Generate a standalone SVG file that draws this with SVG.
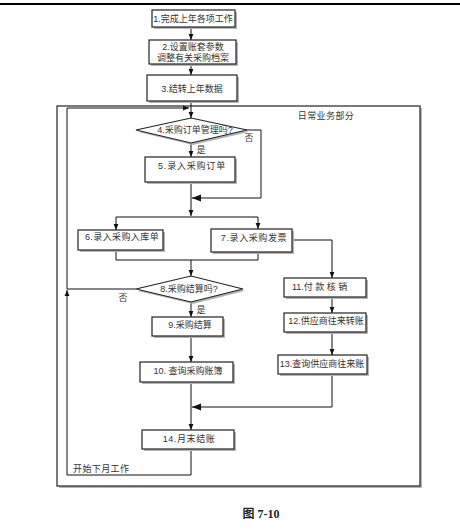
<svg xmlns="http://www.w3.org/2000/svg" width="460" height="530" viewBox="0 0 460 530">
<style>
text{font-family:"Liberation Sans","Noto Sans CJK SC",sans-serif;font-size:9px;fill:#333;text-anchor:middle}
.lt{text-anchor:start}
.box{fill:#fff;stroke:#222;stroke-width:1.2}
.sh{fill:#b5b5b5;stroke:none}
.ln{fill:none;stroke:#111;stroke-width:1}
.cap{font-family:"Liberation Serif","Noto Sans CJK SC",serif;font-weight:bold;font-size:12px;fill:#222}
</style>
<defs>
<marker id="a" viewBox="0 0 10 10" refX="10" refY="5" markerWidth="6" markerHeight="6" markerUnits="userSpaceOnUse" orient="auto"><path d="M0,1 L10,5 L0,9 z" fill="#111"/></marker>
<marker id="b" viewBox="0 0 10 10" refX="10" refY="5" markerWidth="9" markerHeight="9" markerUnits="userSpaceOnUse" orient="auto"><path d="M0,1 L10,5 L0,9 z" fill="#111"/></marker>
</defs>
<rect width="460" height="530" fill="#fff"/>
<line x1="0" y1="4" x2="460" y2="4" stroke="#000" stroke-width="2.2"/>
<g id="frame">
<rect class="sh" x="59" y="108" width="363" height="380"/>
<rect x="57" y="106" width="363" height="380" fill="#fff" stroke="#333" stroke-width="1.3"/>
<text x="326" y="119" letter-spacing="0.4">日常业务部分</text>
</g>
<g id="connectors">
<path class="ln" d="M191,27 L191,40" marker-end="url(#a)"/>
<path class="ln" d="M191,64 L191,75" marker-end="url(#a)"/>
<path class="ln" d="M191,101 L191,118" marker-end="url(#a)"/>
<path class="ln" d="M191,143 L191,157" marker-end="url(#a)"/>
<path class="ln" d="M246,130 L261,130 L261,198 L192,198" marker-end="url(#b)"/>
<path class="ln" d="M191,182 L191,216" marker-end="url(#a)"/>
<path class="ln" d="M116,217 L258,217"/>
<path class="ln" d="M116,217 L116,230" marker-end="url(#a)"/>
<path class="ln" d="M258,217 L258,229" marker-end="url(#a)"/>
<path class="ln" d="M116,250 L116,260 L258,260 L258,252"/>
<path class="ln" d="M191,260 L191,276" marker-end="url(#a)"/>
<path class="ln" d="M292,240 L332,240 L332,278" marker-end="url(#a)"/>
<path class="ln" d="M332,297 L332,313" marker-end="url(#a)"/>
<path class="ln" d="M332,332 L332,355" marker-end="url(#a)"/>
<path class="ln" d="M332,374 L332,407 L192,407" marker-end="url(#b)"/>
<path class="ln" d="M191,302 L191,317" marker-end="url(#a)"/>
<path class="ln" d="M136,289 L67,289"/>
<path class="ln" d="M191,336 L191,362" marker-end="url(#a)"/>
<path class="ln" d="M191,382 L191,430" marker-end="url(#a)"/>
<path class="ln" d="M191,449 L191,475 L67,475 L67,290" marker-end="url(#a)"/>
<path class="ln" d="M67,289 L67,108 L189,108" marker-end="url(#a)"/>
<text x="249" y="141">否</text>
<text x="201" y="153">是</text>
<text x="123" y="301">否</text>
<text x="201" y="313">是</text>
<text class="lt" x="73" y="472" letter-spacing="0.4">开始下月工作</text>
</g>
<g id="n1"><rect class="sh" x="154" y="12" width="83" height="17"/><rect class="box" x="152" y="10" width="83" height="17"/><text x="193" y="21.5">1.完成上年各项工作</text></g>
<g id="n2"><rect class="sh" x="151" y="42" width="87" height="24"/><rect class="box" x="149" y="40" width="87" height="24"/><text x="193" y="50">2.设置账套参数</text><text x="193" y="61">调整有关采购档案</text></g>
<g id="n3"><rect class="sh" x="149" y="77" width="90" height="26"/><rect class="box" x="147" y="75" width="90" height="26"/><text x="192" y="92">3.结转上年数据</text></g>
<g id="n4"><path class="sh" d="M138,132 L193,120 L249,132 L193,145 z"/><path class="box" d="M136,130 L191,118 L247,130 L191,143 z"/><text x="195" y="132.5">4.采购订单管理吗?</text></g>
<g id="n5"><rect class="sh" x="147" y="159" width="90" height="25"/><rect class="box" x="145" y="157" width="90" height="25"/><text x="192" y="168.5" letter-spacing="0.8">5.录入采购订单</text></g>
<g id="n6"><rect class="sh" x="80" y="232" width="85" height="20"/><rect class="box" x="78" y="230" width="85" height="20"/><text x="122" y="240" letter-spacing="0.4">6.录入采购入库单</text></g>
<g id="n7"><rect class="sh" x="213" y="231" width="81" height="23"/><rect class="box" x="211" y="229" width="81" height="23"/><text x="254" y="241" letter-spacing="0.6">7.录入采购发票</text></g>
<g id="n8"><path class="sh" d="M138,291 L193,278 L245,291 L193,304 z"/><path class="box" d="M136,289 L191,276 L243,289 L191,302 z"/><text x="189" y="291.5" font-size="8.5">8.采购结算吗?</text></g>
<g id="n9"><rect class="sh" x="154" y="319" width="71" height="19"/><rect class="box" x="152" y="317" width="71" height="19"/><text x="190" y="327.5">9.采购结算</text></g>
<g id="n10"><rect class="sh" x="142" y="364" width="93" height="20"/><rect class="box" x="140" y="362" width="93" height="20"/><text x="188" y="374">10. 查询采购账簿</text></g>
<g id="n11"><rect class="sh" x="286" y="280" width="82" height="19"/><rect class="box" x="284" y="278" width="82" height="19"/><text class="lt" x="292" y="290">11.付 款 核 销</text></g>
<g id="n12"><rect class="sh" x="286" y="315" width="82" height="19"/><rect class="box" x="284" y="313" width="82" height="19"/><text x="326" y="324">12.供应商往来转账</text></g>
<g id="n13"><rect class="sh" x="280" y="357" width="89" height="19"/><rect class="box" x="278" y="355" width="89" height="19"/><text x="322" y="366.5">13.查询供应商往来账</text></g>
<g id="n14"><rect class="sh" x="144" y="432" width="92" height="19"/><rect class="box" x="142" y="430" width="92" height="19"/><text x="189" y="441.5" letter-spacing="0.6">14.月末结账</text></g>
<text class="cap" x="261" y="518">图 7-10</text>
</svg>
